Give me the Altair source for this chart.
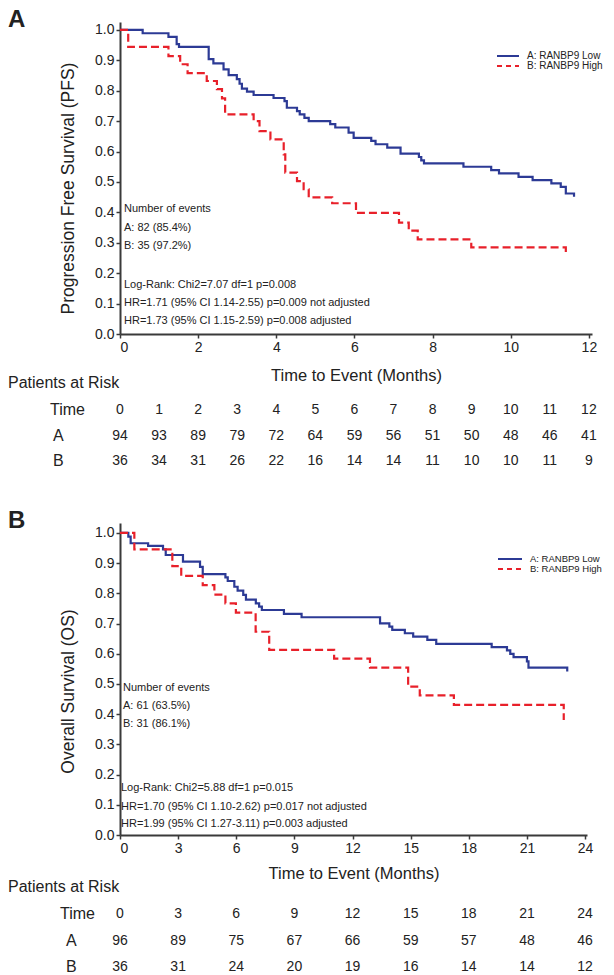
import altair as alt
import pandas as pd

# ---------------- Panel A: Progression Free Survival ----------------
pfs_low_t = [0, 0.58, 1.24, 1.45, 1.51, 2.27, 2.39, 2.65, 2.78, 2.99, 3.06, 3.12, 3.25, 3.42,
             3.93, 4.21, 4.27, 4.53, 4.60, 4.72, 4.83, 5.38, 5.51, 5.85, 5.98, 6.43, 6.54,
             6.84, 7.18, 7.65, 7.71, 7.78, 8.79, 9.50, 9.70, 10.20, 10.56, 11.04, 11.28,
             11.41, 11.62]
pfs_low_s = [1.0, 0.989, 0.977, 0.953, 0.944, 0.904, 0.890, 0.870, 0.851, 0.838, 0.823, 0.807,
             0.797, 0.786, 0.776, 0.766, 0.744, 0.733, 0.722, 0.711, 0.700, 0.690, 0.679,
             0.662, 0.645, 0.635, 0.624, 0.613, 0.593, 0.582, 0.571, 0.561, 0.550, 0.539,
             0.528, 0.517, 0.506, 0.495, 0.484, 0.462, 0.451]
pfs_high_t = [0, 0.21, 1.24, 1.54, 1.73, 2.22, 2.48, 2.61, 2.69, 3.42, 3.57, 3.85, 4.19, 4.23,
              4.53, 4.70, 4.83, 5.43, 6.04, 7.14, 7.39, 7.62, 8.99, 11.41]
pfs_high_s = [1.0, 0.944, 0.914, 0.887, 0.858, 0.832, 0.805, 0.775, 0.722, 0.700, 0.667, 0.640,
              0.591, 0.531, 0.503, 0.476, 0.449, 0.430, 0.398, 0.366, 0.340, 0.311, 0.285,
              0.262]
pfs_ticks = list(range(0, 13))
pfs_risk_a = [94, 93, 89, 79, 72, 64, 59, 56, 51, 50, 48, 46, 41]
pfs_risk_b = [36, 34, 31, 26, 22, 16, 14, 14, 11, 10, 10, 11, 9]
pfs_text = ["Number of events", "A: 82 (85.4%)", "B: 35 (97.2%)"]
pfs_stats = ["Log-Rank: Chi2=7.07 df=1 p=0.008",
             "HR=1.71 (95% CI 1.14-2.55) p=0.009 not adjusted",
             "HR=1.73 (95% CI 1.15-2.59) p=0.008 adjusted"]

# ---------------- Panel B: Overall Survival ----------------
os_low_t = [0, 0.43, 0.55, 1.45, 2.22, 2.36, 3.25, 4.13, 4.27, 5.44, 5.56, 5.90, 6.07, 6.36,
            6.50, 7.01, 7.18, 7.32, 8.46, 9.37, 13.42, 13.90, 14.05, 14.70, 15.13, 15.86,
            16.32, 19.18, 19.97, 20.14, 20.31, 21.00, 21.08, 23.08]
os_low_s = [1.0, 0.988, 0.966, 0.957, 0.946, 0.927, 0.905, 0.888, 0.864, 0.853, 0.841, 0.822,
            0.809, 0.795, 0.779, 0.767, 0.756, 0.745, 0.732, 0.721, 0.701, 0.690, 0.679,
            0.668, 0.657, 0.646, 0.633, 0.622, 0.611, 0.600, 0.589, 0.575, 0.554, 0.541]
os_high_t = [0, 0.74, 2.70, 3.16, 4.27, 4.87, 5.44, 5.98, 7.00, 7.70, 11.05, 12.90, 14.87,
             15.47, 17.23, 22.90]
os_high_s = [1.0, 0.946, 0.890, 0.858, 0.827, 0.796, 0.767, 0.736, 0.673, 0.613, 0.584, 0.554,
             0.491, 0.462, 0.431, 0.381]
os_ticks = list(range(0, 25, 3))
os_risk_a = [96, 89, 75, 67, 66, 59, 57, 48, 46]
os_risk_b = [36, 31, 24, 20, 19, 16, 14, 14, 12]
os_text = ["Number of events", "A: 61 (63.5%)", "B: 31 (86.1%)"]
os_stats = ["Log-Rank: Chi2=5.88 df=1 p=0.015",
            "HR=1.70 (95% CI 1.10-2.62) p=0.017 not adjusted",
            "HR=1.99 (95% CI 1.27-3.11) p=0.003 adjusted"]

groups = ["A: RANBP9 Low", "B: RANBP9 High"]
BLUE = "#2c3a95"
RED = "#e8202a"
FONT = "Liberation Sans"
DARK = "#222222"


def panel(letter, ytitle, t_low, s_low, t_high, s_high, xmax, ymax, width, ticks,
          risk_a, risk_b, ev_text, stats, geo):
    curves = pd.DataFrame(
        {"t": t_low + t_high,
         "s": s_low + s_high,
         "g": [groups[0]] * len(t_low) + [groups[1]] * len(t_high)})
    x = alt.X("t:Q", scale=alt.Scale(domain=[0, xmax], nice=False, zero=True),
              axis=alt.Axis(values=ticks, title="Time to Event (Months)", grid=False,
                            titleFontSize=16.5, titleFontWeight="normal", titleFont=FONT,
                            titleColor=DARK, titlePadding=geo["xtp"]))
    y = alt.Y("s:Q", scale=alt.Scale(domain=[0, ymax], nice=False),
              axis=alt.Axis(values=[i / 10 for i in range(11)], format=".1f", title=ytitle,
                            grid=False, titleFontSize=17.5, titleFontWeight="normal",
                            titleFont=FONT, titleColor=DARK, titlePadding=17,
                            titleY=geo["yty"]))
    lines = alt.Chart(curves).mark_line(interpolate="step-after", strokeWidth=2.2).encode(
        x=x, y=y,
        color=alt.Color("g:N", scale=alt.Scale(domain=groups, range=[BLUE, RED]), legend=None),
        strokeDash=alt.StrokeDash("g:N", scale=alt.Scale(domain=groups, range=[[1, 0], [8, 4]]),
                                  legend=None),
    )
    layers = [lines]

    def txt(s, xv, yv, size, align="left", baseline="middle", weight="normal", font=FONT):
        return alt.Chart(alt.Data(values=[{"s": s}])).mark_text(
            align=align, baseline=baseline, fontSize=size, fontWeight=weight, font=font,
            color=DARK).encode(text="s:N", x=alt.value(xv), y=alt.value(yv))

    # panel letter
    layers.append(txt(letter, -112, geo["letter_y"], 24, baseline="alphabetic", weight="bold"))
    # events + stats text
    for i, s in enumerate(ev_text):
        layers.append(txt(s, geo["tx"], geo["ev_y"][i], 11))
    for i, s in enumerate(stats):
        layers.append(txt(s, geo["sx"], geo["st_y"][i], 11))
    # legend
    lx0, lx1, ly = geo["leg"]
    for i, g in enumerate(groups):
        yy = ly + i * geo["leg_dy"]
        layers.append(alt.Chart(alt.Data(values=[{"g": g}])).mark_rule(
            strokeWidth=2, color=[BLUE, RED][i],
            strokeDash=[[1, 0], [5, 4]][i]).encode(
            x=alt.value(lx0), x2=alt.value(lx1), y=alt.value(yy)))
        layers.append(txt(g, lx1 + 8, yy, geo["leg_fs"]))
    # risk table
    r = geo["risk"]
    layers.append(txt("Patients at Risk", -112, r["par"], 16))
    layers.append(txt("Time", r["tx"], r["rows"][0], 16))
    layers.append(txt("A", r["ax"], r["rows"][1], 16))
    layers.append(txt("B", r["ax"], r["rows"][2], 16))
    tab = pd.DataFrame({"t": ticks, "time": [str(v) for v in ticks],
                        "a": [str(v) for v in risk_a], "b": [str(v) for v in risk_b]})
    for col, yy in zip(["time", "a", "b"], r["rows"]):
        layers.append(alt.Chart(tab).mark_text(fontSize=14, font=FONT, color=DARK,
                                               baseline="middle").encode(
            x=alt.X("t:Q"), y=alt.value(yy), text=f"{col}:N"))

    return alt.layer(*layers).properties(width=width, height=312)


geoA = {"letter_y": 5, "tx": 4, "sx": 4, "ev_y": [187, 206, 224], "st_y": [263, 281, 299],
        "leg": (377, 399, 34), "leg_dy": 10, "leg_fs": 10, "xtp": 13, "yty": 166,
        "risk": {"par": 361, "tx": -70, "ax": -67, "rows": [388, 414, 439]}}
geoB = {"letter_y": 5, "tx": 3, "sx": 1, "ev_y": [165, 183, 201], "st_y": [265, 284, 301],
        "leg": (378, 402, 36), "leg_dy": 10, "leg_fs": 9.5, "xtp": 10, "yty": 168,
        "risk": {"par": 364, "tx": -60, "ax": -54, "rows": [391, 418, 444]}}

pA = panel("A", "Progression Free Survival (PFS)", pfs_low_t, pfs_low_s, pfs_high_t, pfs_high_s,
           12.08, 1.026, 472, pfs_ticks, pfs_risk_a, pfs_risk_b, pfs_text, pfs_stats, geoA)
pB = panel("B", "Overall Survival (OS)", os_low_t, os_low_s, os_high_t, os_high_s,
           24.1, 1.033, 467, os_ticks, os_risk_a, os_risk_b, os_text, os_stats, geoB)

chart = alt.vconcat(pA, pB, spacing=40).properties(padding=0).configure_view(
    stroke=None).configure_axis(
    domainColor="#3a3a3a", domainWidth=2, tickColor="#3a3a3a", tickWidth=1.5, tickSize=4,
    labelFontSize=14, labelFont=FONT, labelColor=DARK, labelPadding=2)

chart.save("out.html", embed_options={"renderer": "svg", "actions": False})
